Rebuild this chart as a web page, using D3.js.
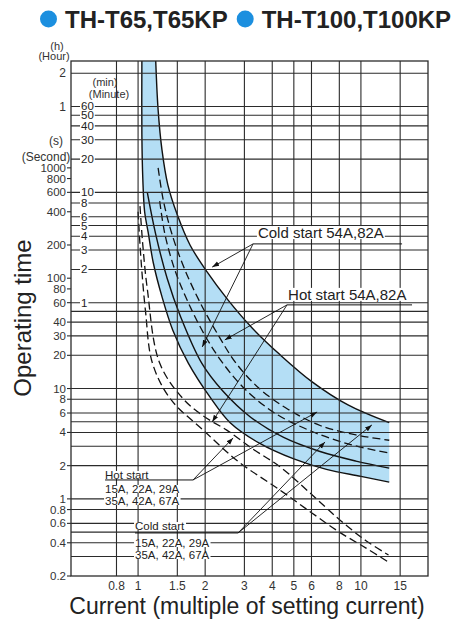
<!DOCTYPE html>
<html>
<head>
<meta charset="utf-8">
<script src="https://cdn.jsdelivr.net/npm/d3@7"></script>
<style>
  body { margin: 0; background: #fff; }
  svg text { font-family: "Liberation Sans", Arial, Helvetica, sans-serif; }
</style>
</head>
<body>
<div id="chart"></div>
<script>
// --- data ---
const titleModels = ["TH-T65,T65KP", "TH-T100,T100KP"];
const xTicks = [0.8, 1, 1.5, 2, 3, 4, 5, 6, 8, 10, 15];
const secondLabels = [0.2, 0.4, 0.6, 0.8, 1, 2, 4, 6, 8, 10, 20, 30, 40, 60, 80, 100, 200, 400, 600, 800, 1000];
const minuteLabels = [1, 2, 3, 4, 5, 6, 8, 10, 20, 30, 40, 50, 60];
const hourLabels = [1, 2];
const gridSeconds = [0.3, 0.4, 0.5, 0.6, 0.8, 1, 2, 3, 4, 5, 6, 8, 10, 20, 30, 40, 50, 60,
  120, 180, 240, 300, 360, 480, 600, 1200, 1800, 2400, 3000, 3600, 7200];

// curves: [multiple of setting current, seconds]
const bandUpper = [[1.20, 9300], [1.23, 3357], [1.28, 1456], [1.36, 702], [1.5, 375], [1.71, 200],
  [2.04, 114], [2.53, 63.6], [3.25, 35.4], [4.34, 20.2], [6.04, 11.5], [8.75, 7.1], [13.4, 4.9]];
const bandLower = [[1.04, 9300], [1.04, 2000], [1.05, 800], [1.07, 400], [1.11, 260], [1.17, 138],
  [1.28, 68], [1.43, 34], [1.68, 17], [2.1, 8.4], [2.59, 4.9], [3.5, 3.2], [5, 2.3], [7, 1.85], [10, 1.6], [13.4, 1.42]];
const coldInner = [[1.1, 600], [1.2, 250], [1.35, 100], [1.55, 45], [1.93, 17], [2.4, 9.5], [3.2, 5.5],
  [4.5, 3.6], [6.5, 2.7], [9.5, 2.2], [13.4, 1.9]];
const hotBandA = [[1.23, 1000], [1.3, 500], [1.42, 250], [1.62, 120], [1.9, 60], [2.3, 30], [2.75, 17],
  [3.5, 10], [4.7, 6.5], [6.6, 4.6], [9.5, 3.8], [13.4, 3.4]];
const hotBandB = [[1.25, 500], [1.32, 250], [1.46, 120], [1.68, 60], [2.0, 30], [2.4, 17], [3.0, 10],
  [4.1, 6], [6, 4.1], [9, 3.1], [13.4, 2.6]];
const hotSmallA = [[1.02, 450], [1.05, 200], [1.1, 80], [1.25, 17], [1.6, 8], [2.0, 5.5], [2.5, 4.2],
  [3.3, 2.8], [4.34, 1.95], [6, 1.1], [8, 0.65], [10.5, 0.42], [13.3, 0.31]];
const hotSmallB = [[1.0, 400], [1.03, 150], [1.08, 50], [1.16, 17], [1.4, 8], [1.96, 4.2], [2.8, 2.2],
  [4.34, 1.2], [6, 0.75], [8, 0.5], [10.5, 0.36], [13.2, 0.27]];

// annotation texts
const noteTexts = [
  ["Cold start 54A,82A"],
  ["Hot start 54A,82A"],
  ["Hot start", "15A, 22A, 29A", "35A, 42A, 67A"],
  ["Cold start", "15A, 22A, 29A", "35A, 42A, 67A"]
];
// annotation anchors in chart units: text start, underline [x0, x1, t], leader origin side, arrow targets
const noteAnchors = [
  { at: [3.45, 231], rule: [3.28, 15.3, 204.6], from: 0, targets: [[2.15, 126], [1.94, 23.8]] },
  { at: [4.71, 63.6], rule: [4.66, 16.96, 57.3], from: 0, targets: [[2.45, 27.6], [2.15, 4.98]] },
  { at: [0.711, 1.515], rule: [0.711, 1.765, 1.484], from: 1, targets: [[2.67, 3.57], [6.36, 6.13]] },
  { at: [0.969, 0.522], rule: [0.969, 2.81, 0.491], from: 1, targets: [[6.9, 3.28], [11.2, 4.68]] }
];
const noteStyle = [
  { size: 15, gap: 0, lead: 0 },
  { size: 15, gap: 0, lead: 0 },
  { size: 11.5, gap: 14, lead: 12 },
  { size: 11.5, gap: 17, lead: 12 }
];

// --- drawing ---
const W = 462, H = 622;
const x = d3.scaleLog().domain([0.5, 20]).range([71, 428]);
const y = d3.scaleLog().domain([0.2, 9300]).range([576, 61]);
const ink = "#2b2b2b";

const svg = d3.select("#chart").append("svg").attr("width", W).attr("height", H);

const defs = svg.append("defs");
defs.append("clipPath").attr("id", "plot-clip").append("rect")
  .attr("x", x.range()[0]).attr("y", y.range()[1])
  .attr("width", x.range()[1] - x.range()[0]).attr("height", y.range()[0] - y.range()[1]);
defs.append("marker").attr("id", "arrow").attr("viewBox", "0 0 10 10")
  .attr("refX", 10).attr("refY", 5).attr("markerWidth", 7).attr("markerHeight", 7)
  .attr("orient", "auto").attr("markerUnits", "userSpaceOnUse")
  .append("path").attr("d", "M0,1.5L10,5L0,8.5Z").attr("fill", "#111");

// title
const title = svg.append("g");
let tx = 40;
titleModels.forEach(name => {
  title.append("circle").attr("cx", tx + 8.5).attr("cy", 19).attr("r", 8.5).attr("fill", "#1c8fdf");
  const t = title.append("text").attr("x", tx + 25).attr("y", 28).attr("font-size", 24)
    .attr("font-weight", "bold").attr("fill", "#222").text(name);
  tx += 25 + t.node().getComputedTextLength() + 9;
});

// band fill
const line = d3.line().x(d => x(d[0])).y(d => y(d[1])).curve(d3.curveCatmullRom.alpha(0.5));
const plot = svg.append("g").attr("clip-path", "url(#plot-clip)");
const bandPath = line(bandUpper) + "L" + line(bandLower.slice().reverse()).slice(1) + "Z";
plot.append("path").attr("d", bandPath).attr("fill", "#b4def5");

// grid
const grid = svg.append("g").attr("stroke", ink).attr("stroke-width", 1.1);
grid.selectAll(".vx").data(xTicks).join("line")
  .attr("x1", d => x(d)).attr("x2", d => x(d))
  .attr("y1", y.range()[1]).attr("y2", y.range()[0]);
grid.selectAll(".hy").data(gridSeconds).join("line")
  .attr("x1", x.range()[0]).attr("x2", x.range()[1])
  .attr("y1", d => y(d)).attr("y2", d => y(d));
svg.append("rect")
  .attr("x", x.range()[0]).attr("y", y.range()[1])
  .attr("width", x.range()[1] - x.range()[0]).attr("height", y.range()[0] - y.range()[1])
  .attr("fill", "none").attr("stroke", ink).attr("stroke-width", 1.3);

// curves
const solid = [bandUpper, bandLower, coldInner];
const dashed = [hotBandA, hotBandB, hotSmallA, hotSmallB];
plot.selectAll(".solid").data(solid).join("path")
  .attr("d", line).attr("fill", "none").attr("stroke", "#111").attr("stroke-width", 1.4);
plot.selectAll(".dashed").data(dashed).join("path")
  .attr("d", line).attr("fill", "none").attr("stroke", "#111").attr("stroke-width", 1.3)
  .attr("stroke-dasharray", "8,4");

// helper: text with white knock-out
function knockText(g, px, py, str, size, anchor) {
  const t = g.append("text").attr("x", px).attr("y", py).attr("font-size", size)
    .attr("text-anchor", anchor || "start").attr("fill", "#222").text(str);
  const b = t.node().getBBox();
  g.insert("rect", () => t.node()).attr("x", b.x - 1).attr("y", b.y + 2)
    .attr("width", b.width + 2).attr("height", b.height - 4).attr("fill", "#fff");
  return t;
}

// y axis labels
const axisG = svg.append("g").attr("fill", "#333");
const left = x.range()[0];
axisG.selectAll(".st").data(secondLabels).join("line")
  .attr("x1", left - 4).attr("x2", left).attr("y1", d => y(d)).attr("y2", d => y(d))
  .attr("stroke", ink).attr("stroke-width", 1.1);
axisG.selectAll(".sl").data(secondLabels).join("text")
  .attr("x", left - 5).attr("y", d => y(d)).attr("dy", "0.35em").attr("text-anchor", "end")
  .attr("font-size", 11.5).text(d => d);
axisG.selectAll(".hl").data(hourLabels).join("text")
  .attr("x", left - 5).attr("y", d => y(d * 3600)).attr("dy", "0.35em").attr("text-anchor", "end")
  .attr("font-size", 12).text(d => d);
const minG = svg.append("g");
minuteLabels.forEach(m => knockText(minG, left + 10, y(m * 60) + 4, m, 11.5));

const unitG = svg.append("g").attr("fill", "#333").attr("text-anchor", "middle");
unitG.append("text").attr("x", 57).attr("y", 50).attr("font-size", 11).text("(h)");
unitG.append("text").attr("x", 54).attr("y", 60).attr("font-size", 11).text("(Hour)");
unitG.append("text").attr("x", 105).attr("y", 86).attr("font-size", 11).text("(min)");
unitG.append("text").attr("x", 109).attr("y", 98).attr("font-size", 11).text("(Minute)");
unitG.append("text").attr("x", 56).attr("y", 145).attr("font-size", 12).text("(s)");
unitG.append("text").attr("x", 46).attr("y", 161).attr("font-size", 12).text("(Second)");

// x axis labels
svg.append("g").selectAll("text").data(xTicks).join("text")
  .attr("x", d => x(d)).attr("y", 590).attr("text-anchor", "middle")
  .attr("font-size", 12).attr("fill", "#333").text(d => d);

// axis titles
svg.append("text").attr("x", 247).attr("y", 614)
  .attr("text-anchor", "middle").attr("font-size", 23).attr("fill", "#222")
  .text("Current (multiple of setting current)");
svg.append("text").attr("transform", "translate(31,318) rotate(-90)")
  .attr("text-anchor", "middle").attr("font-size", 24).attr("fill", "#222")
  .text("Operating time");

// annotations
const noteG = svg.append("g");
noteTexts.forEach((lines, k) => {
  const a = noteAnchors[k], s = noteStyle[k];
  const g = noteG.append("g");
  const ox = x(a.rule[a.from]), oy = y(a.rule[2]);
  a.targets.forEach(tg => {
    g.append("line").attr("x1", ox).attr("y1", oy)
      .attr("x2", x(tg[0])).attr("y2", y(tg[1]))
      .attr("stroke", "#111").attr("stroke-width", 0.9).attr("marker-end", "url(#arrow)");
  });
  lines.forEach((str, i) => {
    const py = y(a.at[1]) + (i > 0 ? s.gap + (i - 1) * s.lead : 0);
    knockText(g, x(a.at[0]), py, str, s.size);
  });
  g.append("line").attr("x1", x(a.rule[0])).attr("x2", x(a.rule[1]))
    .attr("y1", oy).attr("y2", oy)
    .attr("stroke", "#111").attr("stroke-width", 1);
});
</script>
</body>
</html>
